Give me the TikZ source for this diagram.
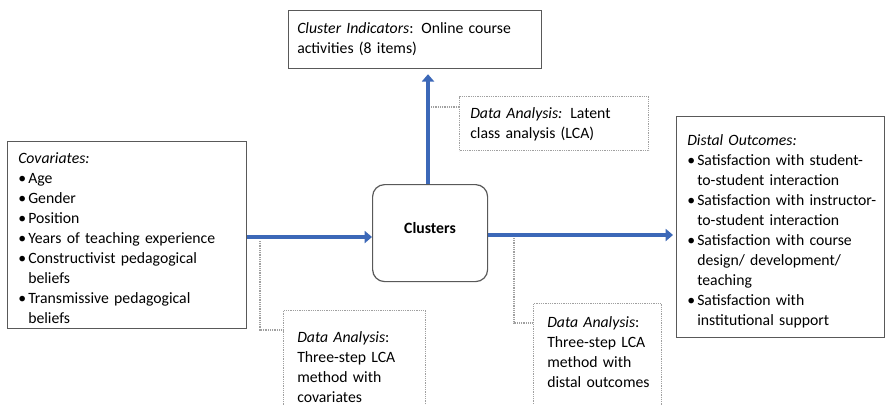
\documentclass[tikz,border=0pt]{standalone}
\usepackage{fontspec}
\setmainfont{Carlito}
\usetikzlibrary{arrows.meta}
\definecolor{boxline}{RGB}{89,89,89}
\definecolor{dotline}{RGB}{160,160,160}
\definecolor{arrblue}{RGB}{60,104,184}
\newcommand{\bitem}[1]{\makebox[7.5pt][l]{\textbullet}#1}
\newcommand{\cont}[1]{\hspace*{7.5pt}#1}
\tikzset{
 solidbox/.style={draw=boxline, line width=0.9pt, anchor=north west, inner sep=0pt},
 dotbox/.style={draw=dotline, line width=1pt, dash pattern=on 0.75pt off 0.6pt, anchor=north west, inner sep=0pt},
 lead/.style={draw=dotline, line width=1pt, dash pattern=on 0.75pt off 0.6pt},
 txt/.style={anchor=base west, inner sep=0pt, align=left, font=\fontsize{11.8}{15}\selectfont},
 bluearrow/.style={draw=arrblue, line width=3.6pt, -{Triangle[length=5.5pt,width=9pt]}},
}
\begin{document}
\begin{tikzpicture}[x=0.75pt,y=-0.75pt]
\useasboundingbox (0,0) rectangle (887,404);
\clip (0,0) rectangle (887,404);
\fill[white] (0,0) rectangle (887,404);

% solid boxes
\node[solidbox, minimum width=189.75pt, minimum height=43.5pt] (ind) at (288,10) {};
\node[txt, text width=180pt] (indtxt) at (297,33) {\textit{Cluster Indicators}: Online course\\activities (8 items)};

\node[solidbox, minimum width=179.25pt, minimum height=140.25pt] (cov) at (7,141) {};
\node[txt, text width=170pt] (covtxt) at (18,163) {\textit{Covariates:}\\
\bitem{Age}\\
\bitem{Gender}\\
\bitem{Position}\\
\bitem{Years of teaching experience}\\
\bitem{Constructivist pedagogical}\\
\cont{beliefs}\\
\bitem{Transmissive pedagogical}\\
\cont{beliefs}};

\node[solidbox, minimum width=156pt, minimum height=165.75pt] (dist) at (676,116) {};
\node[txt, text width=150pt] (disttxt) at (687,145) {\textit{Distal Outcomes:}\\
\bitem{Satisfaction with student-}\\
\cont{to-student interaction}\\
\bitem{Satisfaction with instructor-}\\
\cont{to-student interaction}\\
\bitem{Satisfaction with course}\\
\cont{design/ development/}\\
\cont{teaching}\\
\bitem{Satisfaction with}\\
\cont{institutional support}};

% clusters
\node[draw=boxline, line width=0.9pt, rounded corners=9pt, minimum width=86.25pt, minimum height=72.75pt, anchor=north west, inner sep=0pt] (clu) at (372,184) {};
\node[font=\bfseries\fontsize{11.8}{15}\selectfont, inner sep=0pt] (clutxt) at (430,228) {Clusters};

% dotted boxes
\node[dotbox, minimum width=141.75pt, minimum height=40.5pt] (da1) at (459,96) {};
\node[txt, text width=135pt] (da1txt) at (470,118) {\textit{Data Analysis:} Latent\\class analysis (LCA)};

\node[dotbox, minimum width=106.5pt, minimum height=82.5pt] (da2) at (283,310) {};
\node[txt, text width=100pt] (da2txt) at (297,342) {\textit{Data Analysis}:\\Three-step LCA\\method with\\covariates};

\node[dotbox, minimum width=96pt, minimum height=80.25pt] (da3) at (533,303) {};
\node[txt, text width=90pt] (da3txt) at (547,327) {\textit{Data Analysis}:\\Three-step LCA\\method with\\distal outcomes};

% arrows
\draw[bluearrow] (cov.east |- 0,237) -- (clu.west |- 0,237);
\draw[bluearrow] (clu.east |- 0,235) -- ([xshift=-2.25pt]dist.west |- 0,235);
\draw[bluearrow] (clu.north -| 428,0) -- ([yshift=-3.75pt]ind.south -| 428,0);

% leads
\coordinate (p1) at (431,107);
\coordinate (p2) at (260,241);
\coordinate (p3) at (514,238);
\draw[lead] (p1) -- (da1.west |- p1);
\draw[lead] (p2) |- (da2.west |- 0,330);
\draw[lead] (p3) |- (da3.west |- 0,323);
\end{tikzpicture}
\end{document}
